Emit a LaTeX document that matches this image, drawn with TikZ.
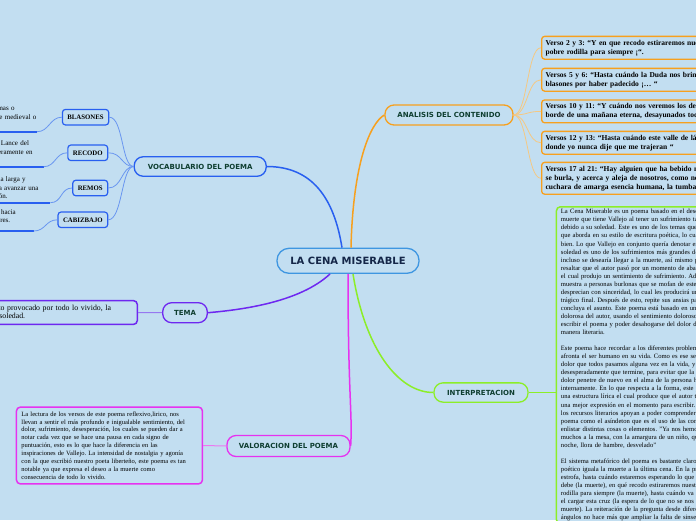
\documentclass[tikz,border=0pt]{standalone}
\usepackage{fontspec}
\setmainfont{Liberation Serif}
\newfontfamily\topicfont{DejaVu Sans}
\frenchspacing
\definecolor{bg}{RGB}{194,222,241}
\definecolor{cenborder}{RGB}{62,150,225}
\definecolor{centext}{RGB}{20,38,72}
\definecolor{topictext}{RGB}{14,62,48}
\definecolor{vocblue}{RGB}{40,95,240}
\definecolor{voclight}{RGB}{105,150,240}
\definecolor{orng}{RGB}{247,160,30}
\definecolor{orlight}{RGB}{245,200,130}
\definecolor{purp}{RGB}{110,40,240}
\definecolor{purlight}{RGB}{150,120,240}
\definecolor{mag}{RGB}{230,50,240}
\definecolor{maglight}{RGB}{235,120,240}
\definecolor{lime}{RGB}{140,238,40}

\begin{document}
\begin{tikzpicture}[x=1pt,y=-1pt,
  topic/.style={draw,line width=1.3pt,rounded corners=9pt,fill=bg,text=topictext,
    font=\topicfont\bfseries\fontsize{7}{8}\selectfont,inner sep=0pt},
  subtopic/.style={draw=vocblue,line width=1.2pt,rounded corners=3pt,fill=bg,anchor=east,
    font=\bfseries\fontsize{6.8}{8}\selectfont,minimum height=15.5pt,inner xsep=5pt},
  defnote/.style={anchor=south west,align=left,inner xsep=0pt,inner ysep=4pt,
    font=\fontsize{7}{8.3}\selectfont},
  defline/.style={vocblue,line width=1.8pt},
  versebox/.style={draw=orng,line width=1.3pt,rounded corners=3pt,fill=bg,anchor=north west,
    align=left,text width=200pt,inner xsep=4pt,inner ysep=3.5pt,
    font=\bfseries\fontsize{7.5}{9}\selectfont},
  notebox/.style={line width=1.5pt,rounded corners=4pt,fill=bg,align=left}]

  \useasboundingbox (0,0) rectangle (696,520);
  \clip (0,0) rectangle (696,520);
  \fill[bg] (0,0) rectangle (696,520);

  % central topic and the five branches
  \node[topic,draw=cenborder,text=centext,rounded corners=12pt,minimum width=142pt,
    minimum height=25pt,font=\topicfont\bfseries\fontsize{10}{12}\selectfont]
    (cena) at (348,260.8) {LA CENA MISERABLE};
  \node[topic,draw=vocblue,minimum width=132pt,minimum height=19.5pt] (vocab) at (200.2,166.5) {VOCABULARIO DEL POEMA};
  \node[topic,draw=orng,minimum width=128pt,minimum height=20pt] (anal) at (449,115) {ANALISIS DEL CONTENIDO};
  \node[topic,draw=purp,minimum width=44.6pt,minimum height=20pt] (tema) at (185,312.7) {TEMA};
  \node[topic,draw=mag,minimum width=123pt,minimum height=21pt] (valor) at (288.5,446) {VALORACION DEL POEMA};
  \node[topic,draw=lime,minimum width=94pt,minimum height=19.3pt] (interp) at (481,392.5) {INTERPRETACION};

  \draw[vocblue,line width=1.5pt] ([xshift=-6pt]cena.north) .. controls +(-8,-50) and +(45,0) .. (vocab.east);
  \draw[orng,line width=1.5pt] ([xshift=3pt]cena.north) .. controls +(2,-85) and +(-14,8) .. (anal.west);
  \draw[purp,line width=1.5pt] ([xshift=-18pt]cena.south) .. controls +(-30,28) and +(35,-3) .. (tema.east);
  \draw[mag,line width=1.5pt] (cena.south) .. controls +(0,120) and +(2,-30) .. (valor.east);
  \draw[lime,line width=1.5pt] ([xshift=5pt]cena.south) .. controls +(12,75) and +(-35,0) .. (interp.west);

  % vocabulary words and their meanings
  \node[subtopic] (blas) at (109.3,117.2) {BLASONES};
  \node[subtopic] (recodo) at (108.3,152.8) {RECODO};
  \node[subtopic] (remos) at (108.3,188) {REMOS};
  \node[subtopic] (cabiz) at (108.3,219.8) {CABIZBAJO};
  \foreach \sb in {blas,recodo,remos,cabiz}
    \draw[voclight,line width=0.8pt] (vocab.west) .. controls +(-12,0) and +(14,0) .. (\sb.east);

  \node[defnote,text width=76.7pt] (defblas) at (-40,131.7) {Escudo de armas o\\de algún linaje medieval o\\noble.};
  \node[defnote,text width=98.3pt] (defrecodo) at (-55,166.7) {Ángulo o revuelta. Lance del\\juego que hace ligeramente en\\el billar.};
  \node[defnote,text width=103.3pt] (defremos) at (-53.3,202.7) {Instrumento de pala larga y\\estrecha, sirve para avanzar una\\barca o embarcación.};
  \node[defnote,text width=103.2pt,inner ysep=6.5pt] (defcabiz) at (-69.9,231) {Con la cabeza inclinada hacia\\abajo por tristeza o pesares.};
  \foreach \nt/\sb in {defblas/blas,defrecodo/recodo,defremos/remos,defcabiz/cabiz}{
    \draw[defline] (\nt.south west) -- (\nt.south east);
    \draw[voclight,line width=0.8pt] (\sb.west) .. controls +(-12,0) and +(12,0) .. (\nt.south east);
  }

  % tema
  \node[notebox,draw=purp,anchor=west,text width=166pt,inner xsep=4pt,inner ysep=4pt,
    font=\fontsize{7.8}{8.7}\selectfont] (temanote) at (-37.4,312.5)
    {Sufrimiento provocado por todo lo vivido, la\\pena y la soledad.};
  \draw[purlight,line width=1pt] (tema.west) -- (temanote.east);

  % valoracion
  \node[notebox,draw=mag,anchor=west,text width=176pt,inner xsep=5pt,inner ysep=4.5pt,
    font=\fontsize{6.5}{7.9}\selectfont] (valnote) at (15.7,445.5)
    {La lectura de los versos de este poema reflexivo,lirico, nos\\
     llevan a sentir el más profundo e inigualable sentimiento, del\\
     dolor, sufrimiento, desesperación, los cuales se pueden dar a\\
     notar cada vez que se hace una pausa en cada signo de\\
     puntuación, esto es lo que hace la diferencia en las\\
     inspiraciones de Vallejo. La intensidad de nostalgia y agonía\\
     con la que escribió nuestro poeta liberteño, este poema es tan\\
     notable ya que expresa el deseo a la muerte como\\
     consecuencia de todo lo vivido.};
  \draw[maglight,line width=1pt] (valnote.east) -- (valor.west);

  % analisis: the verses
  \node[versebox] (v1) at (541,35.7) {Verso 2 y 3: “Y en que recodo estiraremos nuestra\\pobre rodilla para siempre ¡“.};
  \node[versebox] (v2) at (541,67.7) {Versos 5 y 6: “Hasta cuándo la Duda nos brindará\\blasones por haber padecido ¡… “};
  \node[versebox] (v3) at (541,99.3) {Versos 10 y 11: “Y cuándo nos veremos los demás, al\\borde de una mañana eterna, desayunados todos};
  \node[versebox] (v4) at (541,130.7) {Versos 12 y 13: “Hasta cuándo este valle de lágrimas,\\donde yo nunca dije que me trajeran “};
  \node[versebox] (v5) at (541,161.7) {Versos 17 al 21: “Hay alguien que ha bebido mucho,\\se burla, y acerca y aleja de nosotros, como negra\\cuchara de amarga esencia humana, la tumba ...};
  \foreach \vb in {v1,v2,v3,v4,v5}
    \draw[orlight,line width=0.8pt] (anal.east) .. controls +(14,0) and +(-14,0) .. (\vb.west);

  % interpretacion
  \node[notebox,draw=lime,anchor=north west,text width=200pt,inner xsep=4.5pt,inner ysep=2.5pt,
    font=\fontsize{6.6}{8.05}\selectfont] (interpnote) at (555.7,206)
    {La Cena Miserable  es un poema basado en el deseo de la\\
     muerte que tiene Vallejo al tener un sufrimiento tan grande\\
     debido a su soledad. Este es uno de los temas que siempre\\
     que aborda en su estilo de escritura poética, lo cual refleja muy\\
     bien. Lo que Vallejo en conjunto quería denotar es que la\\
     soledad es uno de los sufrimientos más grandes del hombre,\\
     incluso se desearía llegar a la muerte, así mismo podemos\\
     resaltar que el autor pasó por un momento de abandono,\\
     el cual produjo un sentimiento de sufrimiento. Además,\\
     muestra a personas burlonas que se mofan de este y lo\\
     desprecian con sinceridad, lo cual les producirá un\\
     trágico final. Después de esto, repite sus ansias para que\\
     concluya el asunto. Este poema está basado en una vida\\
     dolorosa del autor, usando el sentimiento doloroso para\\
     escribir el poema y poder desahogarse del dolor de una\\
     manera literaria.\\[8.05pt]
     Este poema hace recordar a los diferentes problemas que\\
     afronta el ser humano en su vida. Como es ese sentimiento de\\
     dolor que todos pasamos alguna vez en la vida, y queremos\\
     desesperadamente que termine, para evitar que la tristeza y el\\
     dolor penetre de nuevo en el alma de la persona hiriéndola\\
     internamente. En lo que respecta a la forma, este poema tiene\\
     una estructura lírica el cual produce que el autor tenga\\
     una mejor expresión en el momento para escribir. Asimismo,\\
     los recursos literarios apoyan a poder comprender mejor el\\
     poema como el asíndeton que es el uso de las comas para\\
     enlistar distintas cosas o elementos. "Ya nos hemos sentado\\
     muchos a la mesa, con la amargura de un niño, que a media\\
     noche, llora de hambre, desvelado"\\[8.05pt]
     El sistema metafórico del poema es bastante claro, el yo\\
     poético iguala la muerte a la última cena. En la primera\\
     estrofa, hasta cuándo estaremos esperando lo que no se nos\\
     debe (la muerte), en qué recodo estiraremos nuestra pobre\\
     rodilla para siempre (la muerte), hasta cuándo va a durar\\
     el cargar esta cruz (la espera de lo que no se nos debe, la\\
     muerte). La reiteración de la pregunta desde diferentes\\
     ángulos no hace más que ampliar la falta de sinsentido};
  \draw[lime,line width=1pt] (interp.east) -- (interp.east -| interpnote.west);
\end{tikzpicture}
\end{document}
